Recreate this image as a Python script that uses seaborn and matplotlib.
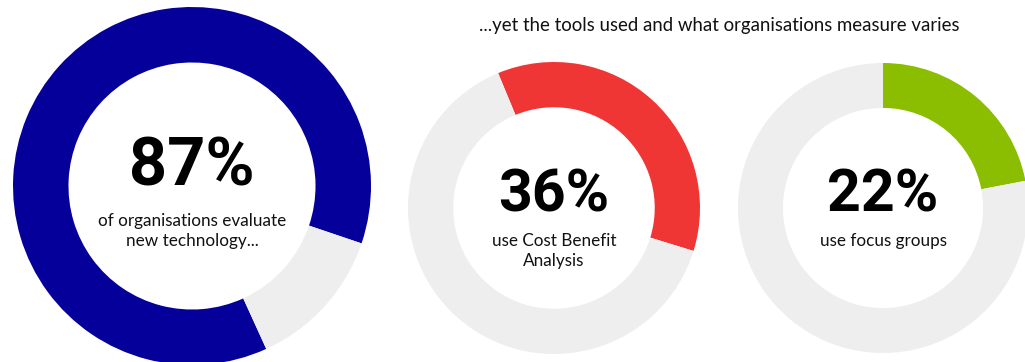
import matplotlib
matplotlib.use("Agg")
import matplotlib.pyplot as plt
import seaborn as sns

# Survey shares (percent of organisations)
metrics = ["evaluate", "cost_benefit", "focus_groups"]
shares = [87, 36, 22]
headline = ["87%", "36%", "22%"]
captions = [
    "of organisations evaluate\nnew technology...",
    "use Cost Benefit\nAnalysis",
    "use focus groups",
]
title = "...yet the tools used and what organisations measure varies"

sns.set_theme(style="white")
plt.rcParams["font.family"] = ["Lato", "DejaVu Sans"]

colors = ["#06009b", "#f03535", "#8bbe00"]
rest_color = "#eeeeee"

W, H = 1025, 362
fig = plt.figure(figsize=(W / 100, H / 100), dpi=100)
ax = fig.add_axes([0, 0, 1, 1])

# layout of each ring: (centre x, centre y from top, outer radius, start angle, ccw)
rings = [
    (192, 186, 179, -18.7, True),
    (554, 208, 146, 112.5, False),
    (883, 208, 145, 90.0, False),
]
hole = 0.69

for share, col, (cx, cy, r, start, ccw) in zip(shares, colors, rings):
    ax.pie(
        [share, 100 - share],
        colors=[col, rest_color],
        center=(cx, H - cy),
        radius=r,
        startangle=start,
        counterclock=ccw,
        frame=True,
        wedgeprops=dict(width=r * (1 - hole), linewidth=0),
    )

# (centre x, headline y, headline size, caption y) in pixels from the top
text_layout = [
    (192, 167, 48, 231),
    (554, 196, 42.5, 251),
    (883, 196, 42.5, 241),
]
for big, cap, (cx, by, bs, cy) in zip(headline, captions, text_layout):
    ax.text(cx, H - by, big, ha="center", va="center", fontsize=bs,
            fontweight="bold", family=["Roboto", "DejaVu Sans"], color="#000000")
    ax.text(cx, H - cy, cap, ha="center", va="center", fontsize=12.3,
            color="#111111", linespacing=1.3)

ax.text(719, H - 25, title, ha="center", va="center", fontsize=13.4, color="#111111")

ax.set_xlim(0, W)
ax.set_ylim(0, H)
ax.set_aspect("equal")
ax.axis("off")

fig.savefig("out.png", dpi=100, facecolor="white")
